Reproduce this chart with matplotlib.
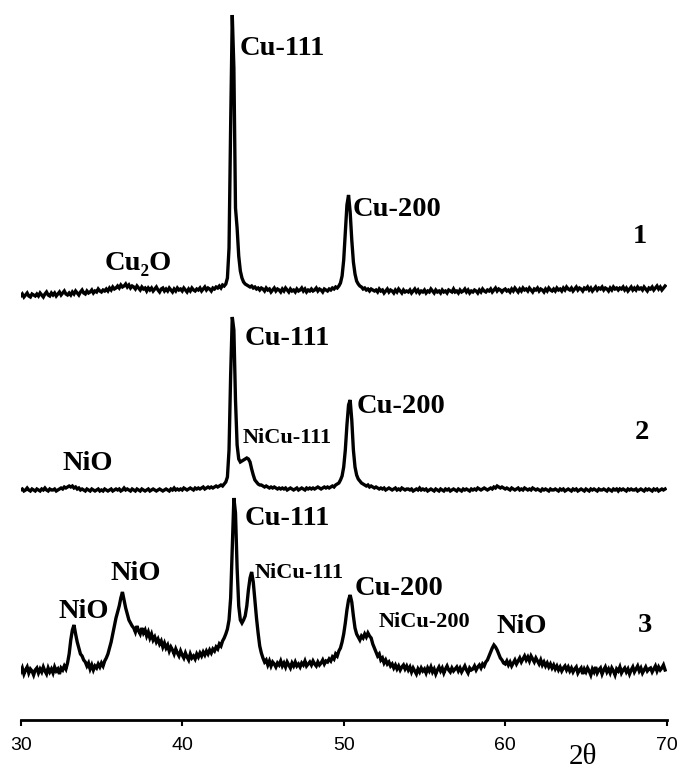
import matplotlib
matplotlib.use("Agg")
import matplotlib.pyplot as plt
import numpy as np

# ── Data ─────────────────────────────────────────────────────────────
# 2-theta sampling: 29.7 .. 69.9 in 0.1 deg steps (rows below = one degree each)
two_theta = np.arange(297, 700) / 10.0

# sample 1 (top) - intensity above its own baseline
int_1 = [
    3, 5, 2,
    4, 6, 3, 5, 7, 4, 3, 6, 5, 4,            # 30
    6, 4, 7, 5, 3, 6, 8, 5, 4, 7,            # 31
    5, 7, 4, 6, 8, 5, 7, 9, 6, 5,            # 32
    7, 5, 8, 6, 9, 7, 5, 8, 10, 7,           # 33
    6, 9, 7, 8, 10, 7, 9, 8, 11, 9,          # 34
    8, 10, 9, 11, 9, 12, 10, 13, 11, 12,     # 35
    14, 12, 15, 13, 14, 16, 13, 15, 12, 14,  # 36
    13, 11, 14, 12, 10, 13, 11, 12, 9, 12,   # 37
    10, 12, 9, 11, 13, 10, 8, 11, 12, 9,     # 38
    11, 9, 12, 10, 8, 11, 9, 12, 10, 11,     # 39
    9, 12, 10, 8, 11, 9, 12, 10, 9, 11,      # 40
    10, 12, 9, 11, 13, 10, 12, 11, 9, 12,    # 41
    11, 13, 12, 14, 12, 15, 14, 16, 22, 52,  # 42
    175, 285, 232, 92, 72, 44, 29, 22, 18, 16,  # 43
    15, 14, 13, 14, 12, 13, 11, 12, 10, 12,  # 44
    11, 9, 12, 10, 11, 8, 10, 12, 9, 11,     # 45
    10, 8, 11, 9, 12, 10, 8, 11, 9, 10,      # 46
    8, 11, 9, 10, 12, 9, 11, 8, 10, 9,       # 47
    11, 9, 10, 12, 9, 11, 10, 8, 11, 10,     # 48
    9, 11, 10, 12, 11, 13, 12, 14, 17, 24,   # 49
    40, 68, 95, 105, 88, 60, 38, 26, 19, 16,  # 50
    14, 13, 11, 12, 10, 11, 9, 11, 10, 9,    # 51
    10, 8, 11, 9, 10, 7, 9, 11, 8, 10,       # 52
    9, 7, 10, 8, 11, 9, 7, 10, 8, 9,         # 53
    8, 10, 7, 9, 11, 8, 10, 7, 9, 8,         # 54
    10, 7, 9, 8, 11, 9, 7, 10, 8, 9,         # 55
    7, 10, 8, 9, 7, 10, 9, 8, 11, 8,         # 56
    9, 7, 10, 8, 9, 11, 8, 10, 7, 9,         # 57
    8, 10, 9, 7, 10, 8, 11, 9, 8, 10,        # 58
    9, 11, 8, 10, 12, 9, 11, 10, 8, 10,      # 59
    11, 9, 10, 8, 11, 9, 12, 10, 8, 11,      # 60
    9, 12, 10, 11, 9, 12, 10, 8, 11, 10,     # 61
    12, 9, 11, 10, 8, 11, 9, 12, 10, 9,      # 62
    11, 9, 12, 10, 11, 9, 12, 10, 13, 11,    # 63
    10, 12, 9, 11, 13, 10, 12, 11, 9, 12,    # 64
    11, 13, 10, 12, 9, 11, 13, 10, 12, 11,   # 65
    13, 10, 12, 11, 9, 12, 10, 13, 11, 12,   # 66
    10, 12, 11, 13, 10, 12, 9, 11, 13, 10,   # 67
    12, 10, 13, 11, 12, 10, 13, 11, 9, 12,   # 68
    11, 13, 10, 12, 14, 11, 13, 10, 12, 14,  # 69
]

# sample 2 (middle)
int_2 = [
    5, 6, 4,
    5, 6, 4, 5, 7, 5, 4, 6, 5, 4,            # 30
    6, 5, 4, 6, 5, 7, 5, 4, 6, 5,            # 31
    5, 6, 4, 5, 6, 7, 6, 8, 7, 8,            # 32
    9, 8, 9, 7, 8, 6, 7, 5, 6, 5,            # 33
    4, 6, 5, 4, 6, 5, 4, 5, 6, 4,            # 34
    5, 4, 6, 5, 4, 5, 6, 4, 5, 6,            # 35
    5, 6, 4, 5, 7, 5, 6, 5, 4, 6,            # 36
    5, 4, 6, 5, 4, 6, 5, 4, 5, 6,            # 37
    4, 5, 6, 5, 4, 5, 6, 5, 4, 5,            # 38
    6, 5, 4, 6, 5, 7, 5, 6, 5, 6,            # 39
    5, 7, 6, 5, 6, 7, 6, 5, 7, 6,            # 40
    7, 6, 7, 8, 6, 7, 8, 7, 8, 7,            # 41
    8, 9, 8, 9, 10, 9, 11, 13, 18, 45,       # 42
    120, 178, 165, 95, 50, 36, 33, 34, 35, 36,  # 43
    37, 36, 33, 26, 20, 15, 13, 11, 10, 10,  # 44
    9, 8, 9, 8, 7, 8, 7, 8, 7, 6,            # 45
    7, 6, 7, 6, 7, 5, 6, 7, 6, 5,            # 46
    6, 7, 5, 6, 7, 6, 5, 7, 6, 7,            # 47
    6, 7, 6, 7, 8, 7, 6, 7, 8, 7,            # 48
    8, 7, 8, 9, 8, 10, 11, 12, 15, 19,       # 49
    28, 45, 70, 90, 95, 75, 45, 28, 20, 16,  # 50
    14, 12, 11, 10, 9, 10, 8, 9, 8, 7,       # 51
    8, 7, 6, 7, 6, 7, 5, 6, 7, 6,            # 52
    5, 6, 7, 5, 6, 5, 7, 6, 5, 6,            # 53
    6, 5, 6, 4, 5, 6, 5, 7, 5, 6,            # 54
    5, 6, 4, 5, 6, 5, 4, 6, 5, 4,            # 55
    6, 5, 4, 6, 5, 6, 4, 5, 6, 5,            # 56
    4, 6, 5, 4, 6, 5, 6, 5, 4, 6,            # 57
    5, 6, 5, 7, 6, 5, 6, 7, 6, 5,            # 58
    6, 7, 6, 8, 7, 9, 8, 7, 8, 7,            # 59
    6, 7, 6, 5, 7, 6, 5, 6, 7, 5,            # 60
    6, 5, 7, 6, 5, 6, 5, 7, 6, 5,            # 61
    6, 5, 4, 6, 5, 6, 5, 4, 6, 5,            # 62
    5, 6, 5, 4, 6, 5, 6, 4, 5, 6,            # 63
    5, 4, 6, 5, 6, 4, 5, 6, 5, 4,            # 64
    6, 5, 4, 6, 5, 6, 5, 4, 6, 5,            # 65
    5, 6, 5, 4, 6, 5, 4, 6, 5, 6,            # 66
    4, 6, 5, 6, 5, 4, 6, 5, 6, 5,            # 67
    5, 6, 4, 5, 6, 5, 4, 6, 5, 6,            # 68
    5, 4, 6, 5, 6, 4, 5, 6, 5, 6,            # 69
]

# sample 3 (bottom)
int_3 = [
    10, 5, 9,
    6, 10, 4, 8, 11, 5, 9, 7, 3, 8,          # 30
    10, 5, 9, 6, 11, 7, 4, 10, 6, 9,         # 31
    5, 11, 7, 9, 4, 10, 8, 12, 9, 15,        # 32
    24, 38, 48, 53, 44, 36, 30, 24, 22, 18,  # 33
    16, 12, 15, 9, 13, 8, 12, 10, 14, 11,    # 34
    15, 12, 17, 20, 24, 30, 36, 44, 52, 60,  # 35
    66, 72, 80, 86, 78, 70, 64, 58, 55, 52,  # 36
    50, 46, 52, 47, 44, 50, 45, 48, 42, 46,  # 37
    40, 44, 38, 41, 36, 39, 34, 37, 31, 35,  # 38
    30, 33, 27, 31, 28, 24, 29, 25, 22, 27,  # 39
    23, 20, 25, 21, 18, 24, 20, 22, 19, 24,  # 40
    21, 25, 22, 26, 23, 27, 24, 28, 25, 29,  # 41
    27, 31, 29, 34, 32, 37, 40, 44, 49, 58,  # 42
    80, 130, 180, 165, 110, 72, 58, 55, 58, 62,  # 43
    72, 88, 100, 106, 96, 78, 60, 45, 32, 25,    # 44
    20, 16, 18, 13, 17, 12, 16, 14, 11, 15,  # 45
    13, 17, 12, 15, 11, 16, 13, 10, 15, 12,  # 46
    16, 12, 14, 11, 15, 13, 17, 12, 14, 16,  # 47
    13, 17, 14, 12, 16, 13, 15, 18, 14, 17,  # 48
    16, 19, 17, 21, 19, 24, 22, 27, 30, 36,  # 49
    44, 55, 68, 78, 83, 76, 62, 50, 44, 41,  # 50
    38, 42, 40, 44, 41, 45, 42, 40, 34, 30,  # 51
    26, 22, 24, 18, 20, 15, 18, 14, 16, 12,  # 52
    14, 10, 13, 9, 12, 8, 11, 13, 9, 12,     # 53
    8, 11, 6, 10, 7, 4, 9, 6, 10, 7,         # 54
    9, 5, 10, 7, 11, 6, 9, 4, 8, 11,         # 55
    7, 10, 5, 9, 12, 8, 6, 10, 7, 9,         # 56
    11, 7, 10, 6, 9, 12, 8, 5, 10, 8,        # 57
    9, 12, 8, 11, 13, 10, 14, 12, 16, 18,    # 58
    22, 26, 30, 33, 31, 28, 24, 20, 18, 15,  # 59
    14, 17, 13, 16, 12, 15, 18, 14, 17, 20,  # 60
    16, 19, 22, 18, 21, 17, 22, 19, 16, 20,  # 61
    17, 14, 18, 13, 16, 12, 15, 11, 14, 10,  # 62
    13, 9, 12, 8, 11, 7, 10, 12, 8, 11,      # 63
    7, 10, 6, 9, 11, 5, 8, 10, 4, 9,         # 64
    6, 10, 7, 3, 9, 6, 11, 5, 8, 10,         # 65
    4, 8, 11, 6, 9, 5, 10, 7, 3, 9,          # 66
    7, 11, 5, 8, 10, 6, 9, 4, 8, 11,         # 67
    6, 9, 12, 7, 10, 5, 8, 11, 7, 9,         # 68
    10, 6, 9, 12, 7, 11, 8, 10, 13, 8,       # 69
]

traces = [int_1, int_2, int_3]
trace_offsets = [420, 225, 42]
trace_names = ["1", "2", "3"]

x_ticks = [30, 40, 50, 60, 70]

# peak labels: (text, 2theta, height, size)
peak_labels = [
    ("Cu-111", 43.58, 665, 20.5),
    ("Cu-200", 50.58, 504, 20.5),
    ("Cu\u2082O", 35.22, 450, 20.5),
    ("Cu-111", 43.89, 375, 20.5),
    ("NiCu-111", 43.77, 277, 16),
    ("Cu-200", 50.82, 307, 20.5),
    ("NiO", 32.56, 250, 20.5),
    ("Cu-111", 43.89, 195, 20.5),
    ("NiCu-111", 44.51, 142, 16),
    ("Cu-200", 50.70, 125, 20.5),
    ("NiO", 35.53, 140, 20.5),
    ("NiO", 32.31, 102, 20.5),
    ("NiCu-200", 52.19, 93, 16),
    ("NiO", 59.49, 87, 20.5),
]
name_pos = [(67.91, 477), (68.0, 281), (68.22, 88)]

# ── Plot ─────────────────────────────────────────────────────────────
fig = plt.figure(figsize=(6.78, 7.71), dpi=100)
ax = fig.add_axes([20.7 / 678, 51 / 771, (666.7 - 20.7) / 678, 720 / 771])

for vals, off in zip(traces, trace_offsets):
    ax.plot(two_theta, np.array(vals) + off, color="black", lw=2.4,
            solid_joinstyle="miter")

serif_bold = dict(family=["Liberation Serif", "DejaVu Serif"],
                  fontweight="bold", color="black")
for text, xx, yy, size in peak_labels:
    ax.text(xx, yy, text, fontsize=size, ha="left", va="baseline", **serif_bold)
for name, (xx, yy) in zip(trace_names, name_pos):
    ax.text(xx, yy, name, fontsize=20.5, ha="left", va="baseline", **serif_bold)

ax.set_xlim(30, 70)
ax.set_ylim(0, 720)
ax.set_xticks(x_ticks)
ax.set_xticklabels([str(t) for t in x_ticks],
                   family=["Liberation Sans", "DejaVu Sans"], fontsize=14)
ax.set_yticks([])
for side in ["left", "right", "top"]:
    ax.spines[side].set_visible(False)
ax.spines["bottom"].set_linewidth(2)
ax.tick_params(axis="x", direction="out", length=4.5, width=1.5, pad=8)
ax.patch.set_alpha(0)

fig.text(583 / 678, 1 - 764 / 771, "2\u03b8", fontsize=21, ha="center",
         va="baseline", family=["Liberation Serif", "DejaVu Serif"])

fig.savefig("out.png", dpi=100)
